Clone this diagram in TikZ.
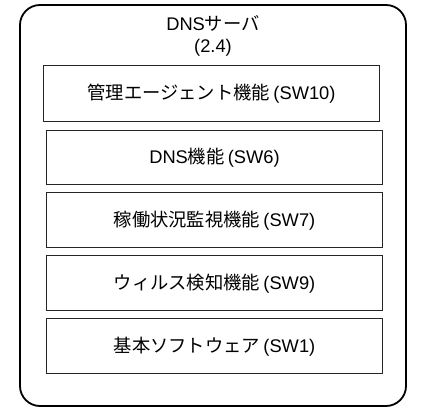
\documentclass[tikz,border=0pt]{standalone}
\usepackage{fontspec}
\setmainfont{Liberation Sans}
\newfontfamily\jp{Noto Sans CJK JP}
\newcommand{\lp}{\hspace{0.18em}(}
\begin{document}
\begin{tikzpicture}[x=1pt,y=-1pt,
  txt/.style={font=\fontsize{18.3}{22}\selectfont},
  layer/.style={txt, draw=black!85, line width=1pt, minimum width=336pt, minimum height=55pt, inner sep=0pt},
  outer/.style={draw=black, line width=1.8pt, rounded corners=20pt}]
\useasboundingbox (0,0) rectangle (426,411);
\draw[outer] (20,5) rectangle (406,406);
\node[txt, align=center] (title) at (213,36) {DNS{\jp サーバ}\\(2.4)};
\node[layer, minimum height=56pt] (sw10) at (211.5,94) {{\jp 管理エージェント機能}\lp SW10)};
\node[layer, minimum height=54pt] (sw6) at (214.5,158) {DNS{\jp 機能}\lp SW6)};
\node[layer] (sw7) at (214.5,220.5) {{\jp 稼働状況監視機能}\lp SW7)};
\node[layer] (sw9) at (214.5,283.5) {{\jp ウィルス検知機能}\lp SW9)};
\node[layer] (sw1) at (214.5,346.5) {{\jp 基本ソフトウェア}\lp SW1)};
\end{tikzpicture}
\end{document}
